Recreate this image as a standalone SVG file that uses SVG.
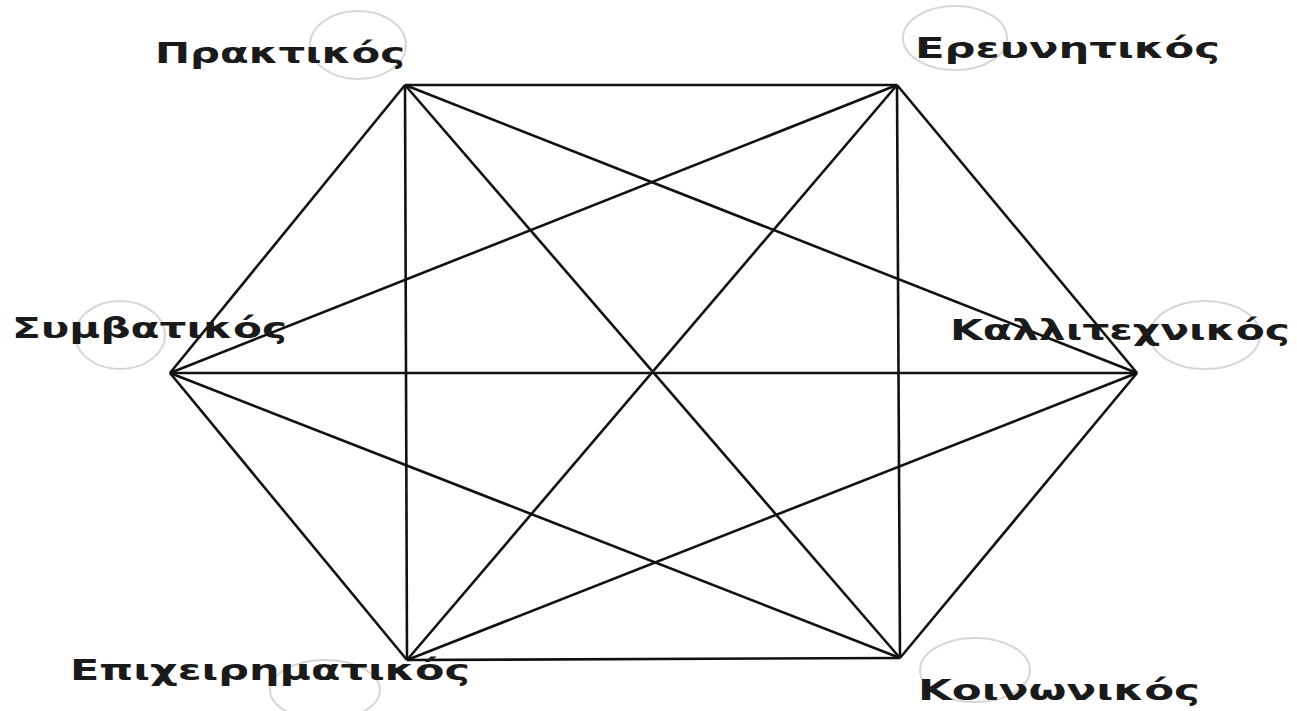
<svg xmlns="http://www.w3.org/2000/svg" width="1297" height="711" viewBox="0 0 1297 711">
<style>
.e{stroke:#111;stroke-width:2.6;fill:none}
.t{font-family:"DejaVu Sans","Noto Sans",sans-serif;font-weight:bold;font-size:29px;fill:#1a1a1a}
.o{fill:none;stroke:#d6d6d6;stroke-width:2}
</style>
<rect width="1297" height="711" fill="#fff"/>
<g id="connectors">
<line class="e" x1="405" y1="85" x2="897" y2="85"/>
<line class="e" x1="897" y1="85" x2="900" y2="658"/>
<line class="e" x1="900" y1="658" x2="407" y2="660"/>
<line class="e" x1="407" y1="660" x2="405" y2="85"/>
<line class="e" x1="405" y1="85" x2="170" y2="373"/>
<line class="e" x1="170" y1="373" x2="407" y2="660"/>
<line class="e" x1="897" y1="85" x2="1137" y2="373"/>
<line class="e" x1="1137" y1="373" x2="900" y2="658"/>
<line class="e" x1="405" y1="85" x2="900" y2="658"/>
<line class="e" x1="897" y1="85" x2="407" y2="660"/>
<line class="e" x1="405" y1="85" x2="1137" y2="373"/>
<line class="e" x1="897" y1="85" x2="170" y2="373"/>
<line class="e" x1="170" y1="373" x2="1137" y2="373"/>
<line class="e" x1="170" y1="373" x2="900" y2="658"/>
<line class="e" x1="407" y1="660" x2="1137" y2="373"/>
</g>
<g id="praktikos"><ellipse class="o" cx="358" cy="45" rx="48" ry="34"/><text class="t" x="155" y="63" textLength="250" lengthAdjust="spacingAndGlyphs">Πρακτικός</text></g>
<g id="ereunitikos"><ellipse class="o" cx="955" cy="38" rx="52" ry="32"/><text class="t" x="915" y="58" textLength="305" lengthAdjust="spacingAndGlyphs">Ερευνητικός</text></g>
<g id="symvatikos"><ellipse class="o" cx="120" cy="335" rx="45" ry="34"/><text class="t" x="12" y="338" textLength="275" lengthAdjust="spacingAndGlyphs">Συμβατικός</text></g>
<g id="kallitexnikos"><ellipse class="o" cx="1205" cy="335" rx="55" ry="34"/><text class="t" x="950" y="340" textLength="340" lengthAdjust="spacingAndGlyphs">Καλλιτεχνικός</text></g>
<g id="epixeirimatikos"><ellipse class="o" cx="325" cy="690" rx="55" ry="30"/><text class="t" x="70" y="680" textLength="400" lengthAdjust="spacingAndGlyphs">Επιχειρηματικός</text></g>
<g id="koinonikos"><ellipse class="o" cx="975" cy="670" rx="55" ry="32"/><text class="t" x="918" y="700" textLength="282" lengthAdjust="spacingAndGlyphs">Κοινωνικός</text></g>
</svg>
